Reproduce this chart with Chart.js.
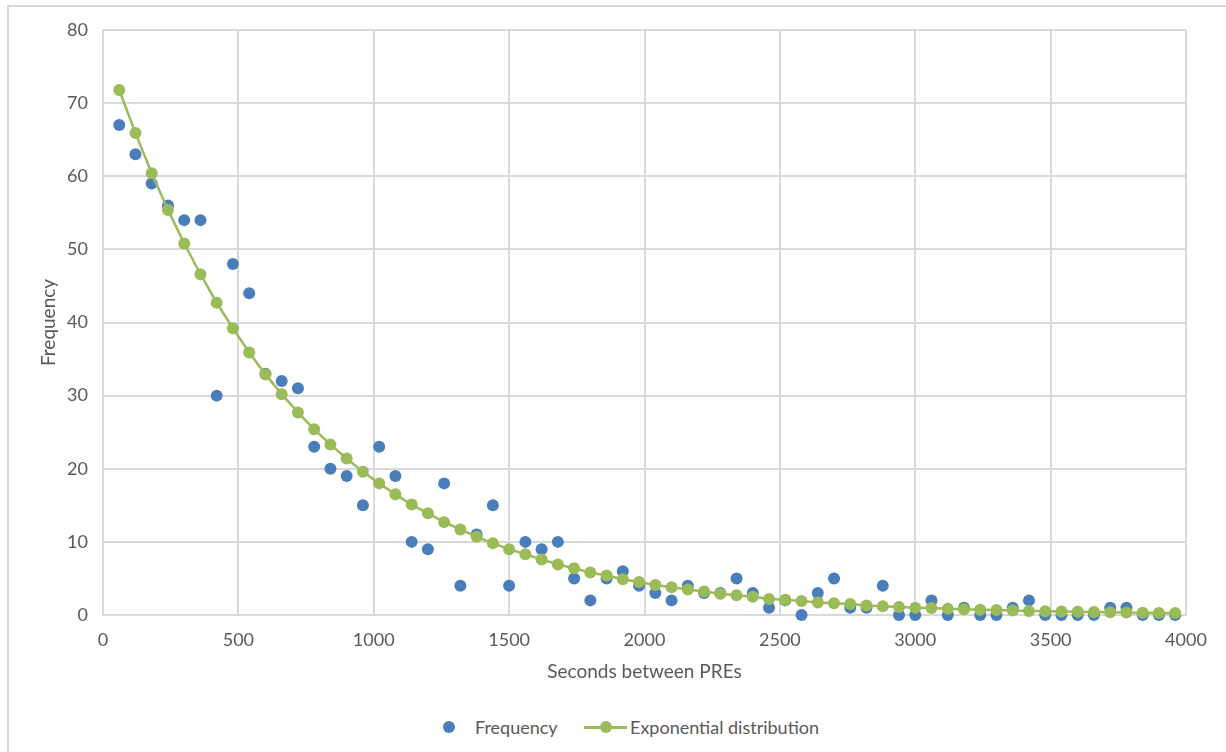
<!DOCTYPE html>
<html>
<head>
<meta charset="utf-8">
<title>Seconds between PREs</title>
<script src="https://cdn.jsdelivr.net/npm/chart.js@4.4.1/dist/chart.umd.min.js"></script>
<style>
  html, body { margin: 0; padding: 0; background: #fff; overflow: hidden; }
  #wrap { position: relative; width: 1226px; height: 752px; }
  #frame {
    position: absolute; left: 7px; top: 5px; width: 1240px; height: 780px;
    border-left: 2px solid #d9d9d9; border-top: 2px solid #d9d9d9; box-sizing: border-box;
  }
  #plot { position: absolute; left: 0; top: 0; width: 1226px; height: 700px; }
  .lg { position: absolute; font-family: Lato, "Open Sans", sans-serif; font-size: 18px; color: #595959; line-height: 20px; white-space: nowrap; }
  .dot { position: absolute; width: 12px; height: 12px; border-radius: 50%; }
  .ln { position: absolute; height: 3px; background: #9BBB59; }
</style>
</head>
<body>
<div id="wrap">
  <div id="frame"></div>
  <canvas id="plot" width="1226" height="700"></canvas>
  <div class="dot" style="left:443px; top:721px; background:#4A7EBB;"></div>
  <div class="lg" style="left:475px; top:717px;">Frequency</div>
  <div class="ln" style="left:584px; top:726px; width:43px;"></div>
  <div class="dot" style="left:600px; top:721px; background:#9BBB59;"></div>
  <div class="lg" style="left:630px; top:717px;">Exponential distribution</div>
</div>
<script>
// Bin centres (seconds between PREs)
const seconds = [
  60, 120, 180, 240, 300, 360, 420, 480, 540, 600,
  660, 720, 780, 840, 900, 960, 1020, 1080, 1140, 1200,
  1260, 1320, 1380, 1440, 1500, 1560, 1620, 1680, 1740, 1800,
  1860, 1920, 1980, 2040, 2100, 2160, 2220, 2280, 2340, 2400,
  2460, 2520, 2580, 2640, 2700, 2760, 2820, 2880, 2940, 3000,
  3060, 3120, 3180, 3240, 3300, 3360, 3420, 3480, 3540, 3600,
  3660, 3720, 3780, 3840, 3900, 3960
];

// Observed counts per bin
const frequency = [
  67, 63, 59, 56, 54, 54, 30, 48, 44, 33,
  32, 31, 23, 20, 19, 15, 23, 19, 10, 9,
  18, 4, 11, 15, 4, 10, 9, 10, 5, 2,
  5, 6, 4, 3, 2, 4, 3, 3, 5, 3,
  1, 2, 0, 3, 5, 1, 1, 4, 0, 0,
  2, 0, 1, 0, 0, 1, 2, 0, 0, 0,
  0, 1, 1, 0, 0, 0
];

// Expected counts from the fitted exponential distribution
const exponential = [
  71.8, 65.9, 60.4, 55.4, 50.8, 46.6, 42.7, 39.2, 35.9, 32.9,
  30.2, 27.7, 25.4, 23.3, 21.4, 19.6, 18.0, 16.5, 15.1, 13.9,
  12.7, 11.7, 10.7, 9.8, 9.0, 8.3, 7.6, 6.9, 6.4, 5.8,
  5.4, 4.9, 4.5, 4.1, 3.8, 3.5, 3.2, 2.9, 2.7, 2.5,
  2.2, 2.1, 1.9, 1.7, 1.6, 1.5, 1.3, 1.2, 1.1, 1.0,
  0.95, 0.87, 0.8, 0.73, 0.67, 0.62, 0.56, 0.52, 0.48, 0.44,
  0.40, 0.37, 0.34, 0.31, 0.28, 0.26
];

const xTitle = 'Seconds between PREs';
const yTitle = 'Frequency';

const FONT = 'Lato, "Open Sans", sans-serif';
const TEXT = '#595959';
const GRID = '#d9d9d9';

const toPoints = vals => seconds.map((s, i) => ({ x: s, y: vals[i] }));

new Chart(document.getElementById('plot'), {
  type: 'scatter',
  data: {
    datasets: [
      {
        label: 'Frequency',
        data: toPoints(frequency),
        backgroundColor: '#4A7EBB',
        borderColor: '#4A7EBB',
        pointRadius: 6,
        pointBorderWidth: 0,
        showLine: false,
        clip: false,
        order: 1
      },
      {
        label: 'Exponential distribution',
        data: toPoints(exponential),
        backgroundColor: '#9BBB59',
        borderColor: '#9BBB59',
        borderWidth: 2.5,
        pointRadius: 6,
        pointBorderWidth: 0,
        showLine: true,
        tension: 0,
        clip: false,
        order: 0
      }
    ]
  },
  options: {
    responsive: false,
    animation: false,
    layout: { padding: { left: 0, top: 30, right: 40, bottom: 0 } },
    plugins: { legend: { display: false }, tooltip: { enabled: false } },
    scales: {
      x: {
        type: 'linear',
        min: 0, max: 4000,
        ticks: {
          stepSize: 500, color: TEXT, font: { family: FONT, size: 18 }, padding: 14, maxRotation: 0,
          callback: v => String(v)
        },
        grid: { color: GRID, lineWidth: 2, drawTicks: false },
        border: { color: GRID, width: 2 },
        title: { display: true, text: xTitle, color: TEXT, font: { family: FONT, size: 19 }, padding: { top: 0, bottom: 17 } },
        afterFit: s => { s.height = 85; }
      },
      y: {
        min: 0, max: 80,
        ticks: { stepSize: 10, color: TEXT, font: { family: FONT, size: 18 }, padding: 15 },
        grid: { color: GRID, lineWidth: 2, drawTicks: false },
        border: { color: GRID, width: 2 },
        title: { display: true, text: yTitle, color: TEXT, font: { family: FONT, size: 19 }, padding: { top: 37, bottom: 0 } },
        afterFit: s => { s.width = 103; }
      }
    }
  }
});
</script>
</body>
</html>
